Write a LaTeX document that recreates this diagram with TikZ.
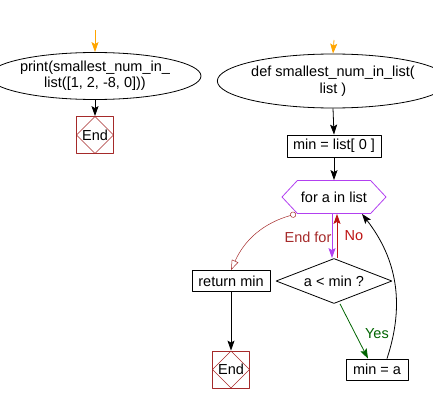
\documentclass[tikz,border=0pt]{standalone}
\usepackage{fontspec}
\setmainfont{Liberation Sans}
\usetikzlibrary{arrows.meta,shapes.geometric,shapes.symbols}
\definecolor{endred}{RGB}{165,42,42}
\definecolor{loopviolet}{RGB}{178,64,240}
\definecolor{startorange}{RGB}{255,165,0}
\definecolor{noread}{RGB}{190,20,20}
\definecolor{yesgreen}{RGB}{0,100,0}
\begin{document}
\begin{tikzpicture}[x=1pt,y=-1pt,line width=0.8pt,line join=round,
  font=\fontsize{14.5}{16.5}\selectfont,
  >={Stealth[length=10pt,width=7pt,inset=2pt]},
  ellip/.style={draw,ellipse,align=center,inner sep=0pt},
  stepbox/.style={draw,rectangle,inner sep=0pt},
  endbox/.style={draw=endred,rectangle,minimum size=37pt,inner sep=0pt,
    path picture={\draw[endred,line width=0.5pt]
      (path picture bounding box.north)--(path picture bounding box.east)--
      (path picture bounding box.south)--(path picture bounding box.west)--cycle;}},
  loopbox/.style={draw=loopviolet,signal,signal to=east and west,signal pointer angle=94,
    minimum width=104pt,minimum height=33pt,inner sep=0pt},
  decide/.style={draw,diamond,aspect=2.58,minimum width=116pt,minimum height=45pt,inner sep=0pt}]
\useasboundingbox (0,0) rectangle (433,404);
% left part
\coordinate (s1) at (95,30);
\node[ellip,minimum width=180pt,minimum height=47pt] (call) at (95,76) {print(smallest\_num\_in\_\\list([1, 2, -8, 0]))};
\node[endbox] (end1) at (95,135) {End};
\draw[startorange,->] (s1) -- (call.north);
\draw[->] (call.south) -- (end1.north);
% function
\coordinate (s2) at (334,40);
\node[ellip,minimum width=194pt,minimum height=54pt] (func) at (333,81) {def smallest\_num\_in\_list(\\list )};
\node[stepbox,minimum width=94pt,minimum height=22pt] (init) at (334,146) {min = list[ 0 ]};
\node[loopbox] (loop) at (334,197) {for a in list};
\node[decide] (cond) at (334,281) {a < min ?};
\node[stepbox,minimum width=78pt,minimum height=21pt] (ret) at (231,281) {return min};
\node[endbox] (end2) at (231,369.5) {End};
\node[stepbox,minimum width=62pt,minimum height=21pt] (upd) at (377,369.5) {min = a};
\draw[startorange,->] (s2) -- (func.north);
\draw[->] (func.south) -- (init.north);
\draw[->] (init.south) -- (loop.north);
\draw[loopviolet,->] ([xshift=-2pt]loop.south) -- ([xshift=-2pt]cond.north);
\draw[noread,->] ([xshift=3pt]cond.north) -- ([xshift=3pt]loop.south)
  node[pos=0.5,right=4pt] {No};
\draw[endred,line width=0.5pt,{Circle[open,length=6pt]}-{Triangle[open,length=10pt,width=7pt]}]
  ([xshift=-38pt]loop.south) to[bend right=25] (ret.north);
\node[endred] (endfor) at (308,237) {End for};
\draw[yesgreen,->] ([xshift=6pt]cond.south) -- ([xshift=-9pt]upd.north)
  node[pos=0.55,right=6pt] {Yes};
\draw[->] (ret.south) -- (end2.north);
\draw[->] ([xshift=10pt]upd.north) to[bend right=28] ([xshift=28pt]loop.south);
\end{tikzpicture}
\end{document}
